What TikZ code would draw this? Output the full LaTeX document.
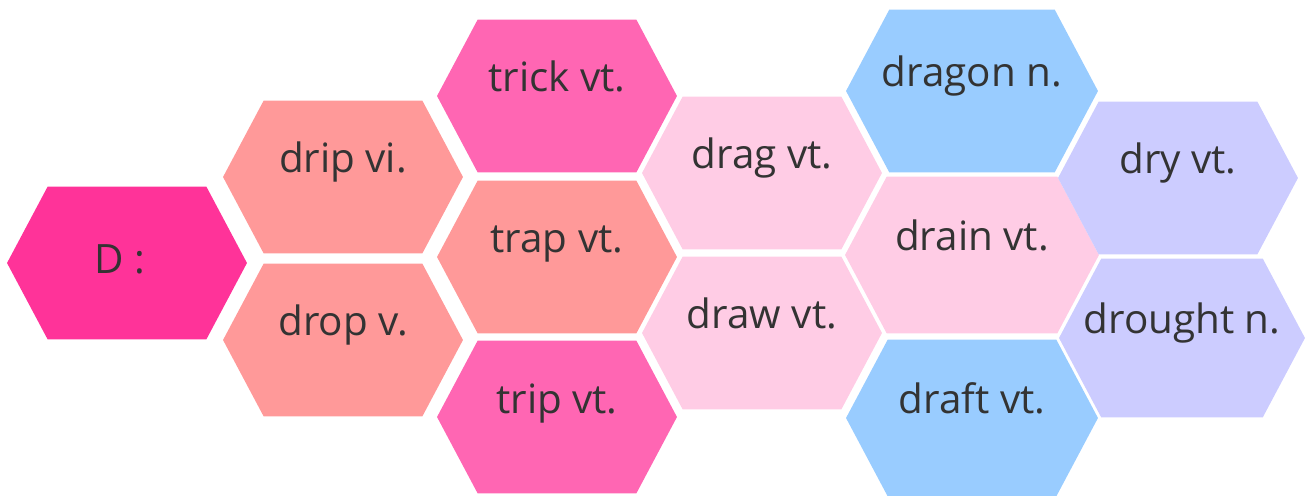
\documentclass[tikz,border=0pt]{standalone}
\usepackage{fontspec}
\setmainfont{Open Sans}
\usepackage{tikz}
\usetikzlibrary{shapes,positioning}
\definecolor{hexD}{HTML}{FF3399}
\definecolor{hexrose}{HTML}{FF66B3}
\definecolor{hexsalmon}{HTML}{FF9999}
\definecolor{hexpink}{HTML}{FFCCE5}
\definecolor{hexblue}{HTML}{99CCFF}
\definecolor{hexlav}{HTML}{CCCCFF}
\definecolor{wordgray}{HTML}{333333}
\tikzset{hexa/.style={signal, signal to=east and west, signal pointer angle=124,
    inner sep=0pt, draw=none, fill=#1, minimum width=4.8cm, minimum height=3.06cm},
  word/.style={anchor=base, text=wordgray, font=\fontsize{23}{27}\selectfont}}

\begin{document}
\begin{tikzpicture}[x=0.02cm, y=-0.02cm]
    \useasboundingbox (0,0) rectangle (1309,496);

    \node (hD) [hexa=hexD] at (127,263) {};
    \node (hdrip) [hexa=hexsalmon] at (343,177) {};
    \node (hdrop) [hexa=hexsalmon] at (343,340) {};
    \node (htrick) [hexa=hexrose] at (557,96) {};
    \node (htrap) [hexa=hexsalmon] at (557,257) {};
    \node (htrip) [hexa=hexrose] at (557,417) {};
    \node (hdrag) [hexa=hexpink] at (762,173) {};
    \node (hdraw) [hexa=hexpink] at (762,333) {};
    \node (hdragon) [hexa=hexblue, minimum width=5.04cm, minimum height=3.26cm] at (972,91) {};
    \node (hdrain) [hexa=hexpink, minimum width=5.08cm, minimum height=3.14cm] at (972,255) {};
    \node (hdraft) [hexa=hexblue, minimum width=5.04cm, minimum height=3.14cm] at (972,418) {};
    \node (hdry) [hexa=hexlav] at (1178,178) {};
    \node (hdrought) [hexa=hexlav, minimum width=4.92cm, minimum height=3.18cm] at (1182,338) {};

    \node (wD) [word] at ([xshift=-0.14cm, yshift=-0.22cm]hD.center) {D :};
    \node (wdrip) [word] at ([yshift=0.08cm]hdrip.center) {drip vi.};
    \node (wdrop) [word] at ([yshift=0.08cm]hdrop.center) {drop v.};
    \node (wtrick) [word] at ([yshift=0.08cm]htrick.center) {trick vt.};
    \node (wtrap) [word] at ([yshift=0.08cm]htrap.center) {trap vt.};
    \node (wtrip) [word] at ([yshift=0.08cm]htrip.center) {trip vt.};
    \node (wdrag) [word] at ([yshift=0.08cm]hdrag.center) {drag vt.};
    \node (wdraw) [word] at ([yshift=0.08cm]hdraw.center) {draw vt.};
    \node (wdragon) [word] at ([yshift=0.08cm]hdragon.center) {dragon n.};
    \node (wdrain) [word] at ([yshift=0.08cm]hdrain.center) {drain vt.};
    \node (wdraft) [word] at ([yshift=0.08cm]hdraft.center) {draft vt.};
    \node (wdry) [word] at ([yshift=0.08cm]hdry.center) {dry vt.};
    \node (wdrought) [word] at ([yshift=0.08cm]hdrought.center) {drought n.};
  \end{tikzpicture}
\end{document}
